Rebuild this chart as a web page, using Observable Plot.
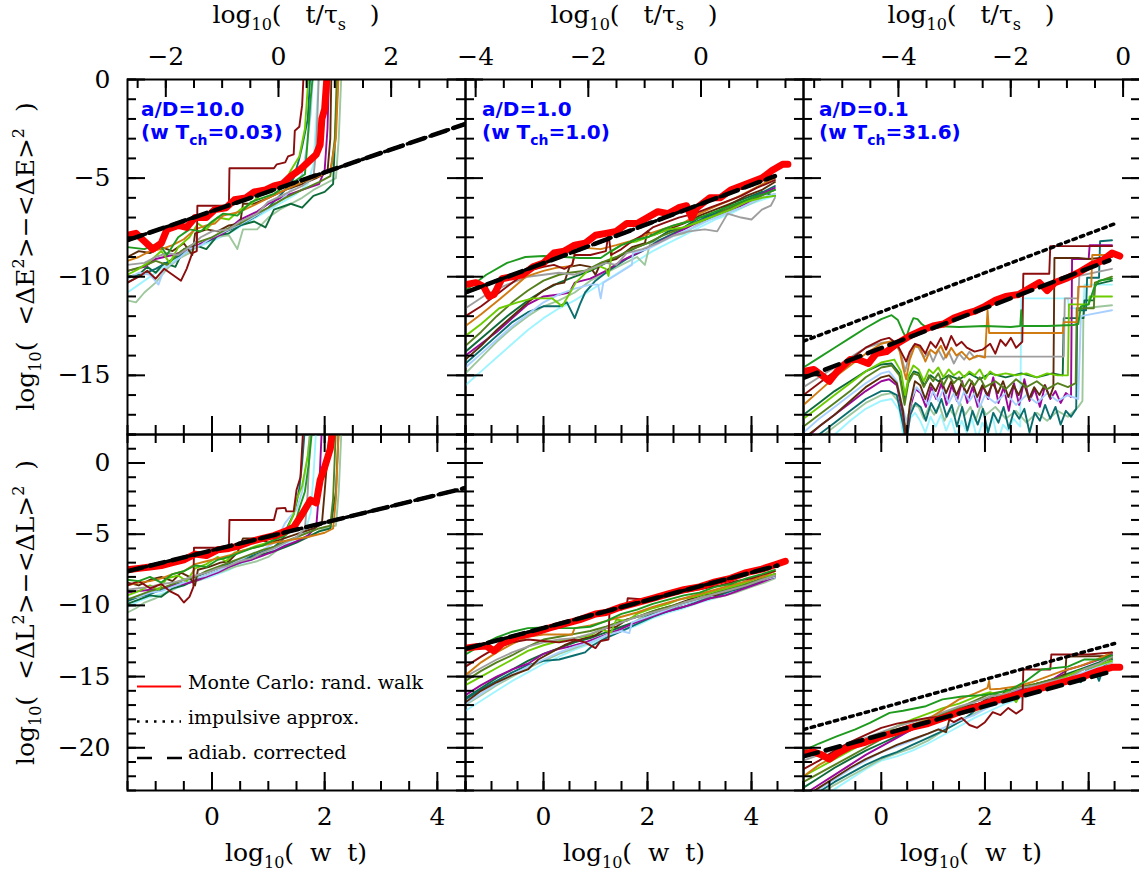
<!DOCTYPE html>
<html><head><meta charset="utf-8">
<script src="https://cdn.jsdelivr.net/npm/d3@7"></script>
<script src="https://cdn.jsdelivr.net/npm/@observablehq/plot@0.6"></script>
<style>
body{margin:0;background:#fff;}
#wrap{position:relative;width:1139px;height:875px;overflow:hidden;background:#fff;font-family:"DejaVu Serif",serif;}
.panel{position:absolute;}
.ttl{position:absolute;width:400px;text-align:center;font:25px/25px "DejaVu Serif",serif;white-space:pre;color:#000;}
.ttl sub,.ytl sub{font-size:16px;position:relative;top:7px;vertical-align:baseline;line-height:0;}
.ytl sup{font-size:16px;position:relative;top:-10px;vertical-align:baseline;line-height:0;}
.ytl{position:absolute;width:400px;height:25px;text-align:center;font:25px/25px "DejaVu Serif",serif;white-space:pre;color:#000;transform:rotate(-90deg);}
.lab{position:absolute;color:#0000ff;font:bold 20px/23px "DejaVu Sans",sans-serif;white-space:pre;}
.lab sub{font-size:14px;position:relative;top:6px;vertical-align:baseline;line-height:0;}
</style>
</head><body>
<div id="wrap"></div>
<script>
// ---------------- data ----------------
const runColors = ["#1e9a1e","#8b0d0d","#d07a12","#9e9e9e","#6ccc00","#55801c","#5c2c0a","#a8d0ff","#990899","#0b6e6e","#0d6b3a","#9dc79d","#9ff5ff"];

const ratioLabels = ["10.0","1.0","0.1"];
const omegaTLabels = ["0.03","1.0","31.6"];
const tauLabels = [[-2,0,2],[-4,-2,0],[-4,-2,0]];
const wtLabels = [0,2,4];
const tauStart = [-2.68,-4.18,-5.69];
const tauSpan = 6;
const xDomains = [[-1.5,4.5],[-1.5,5],[-1.5,5]];
const yDomains = [[-18,0],[-23,2]];

// top-left  (a/D=10, energy)
const runsTL = [
[[-1.5,-8.5],[-1.2,-8.6],[-0.95,-8.3],[-0.8,-8.9],[-0.6,-8.0],[-0.4,-7.6],[-0.2,-7.7],[0,-7.2],[0.2,-6.8],[0.45,-6.9],[0.7,-6.2],[0.9,-6.0],[1.1,-5.8],[1.3,-5.4],[1.5,-5.1],[1.65,-4.8],[1.7,-3.0],[1.75,-1.0],[1.8,0.5]],
[[-1.5,-10.3],[-1.3,-10.0],[-1.15,-9.7],[-1.0,-10.1],[-0.85,-9.6],[-0.7,-9.9],[-0.55,-10.2],[-0.45,-9.6],[-0.35,-8.8],[-0.27,-8.7],[-0.26,-6.4],[0.3,-6.4],[0.31,-4.5],[1.1,-4.5],[1.15,-4.3],[1.3,-4.2],[1.35,-3.9],[1.45,-3.8],[1.47,-2.6],[1.55,-2.4],[1.6,-1.3],[1.63,0.5]],
[[-1.5,-9.2],[-1.3,-9.0],[-1.1,-8.7],[-0.9,-8.6],[-0.7,-8.4],[-0.5,-8.1],[-0.3,-7.6],[-0.1,-7.4],[0.05,-7.3],[0.2,-6.9],[0.5,-6.7],[0.8,-6.3],[1.0,-6.0],[1.3,-5.6],[1.6,-5.2],[1.9,-4.9],[2.1,-4.6],[2.2,-3.0],[2.25,0.5]],
[[-1.5,-9.4],[-1.2,-9.3],[-1.0,-9.0],[-0.8,-8.8],[-0.6,-8.9],[-0.4,-8.5],[-0.2,-8.0],[0,-7.7],[0.3,-7.6],[0.5,-7.2],[0.8,-6.8],[1.0,-6.2],[1.3,-5.8],[1.6,-5.4],[1.8,-5.0],[1.85,-3.5],[1.9,0.5]],
[[-1.5,-9.9],[-1.3,-9.6],[-1.1,-9.2],[-0.9,-8.7],[-0.75,-9.3],[-0.6,-8.5],[-0.4,-8.0],[-0.25,-7.3],[-0.1,-7.6],[0.1,-7.0],[0.3,-7.1],[0.5,-6.6],[0.7,-6.3],[0.9,-5.7],[1.1,-5.6],[1.3,-5.2],[1.4,-4.6],[1.55,-3.9],[1.65,-2.5],[1.72,0.5]],
[[-1.5,-9.7],[-1.25,-9.5],[-1.0,-9.2],[-0.8,-9.4],[-0.55,-8.7],[-0.3,-8.3],[0,-8.0],[0.25,-7.6],[0.5,-7.3],[0.8,-6.8],[1.0,-6.5],[1.3,-6.0],[1.6,-5.6],[1.9,-5.2],[2.1,-4.9],[2.18,-3.0],[2.22,0.5]],
[[-1.5,-9.0],[-1.3,-8.7],[-1.1,-8.8],[-0.9,-8.5],[-0.7,-8.7],[-0.5,-8.3],[-0.35,-8.9],[-0.3,-7.8],[-0.1,-7.6],[0.1,-7.7],[0.3,-7.4],[0.5,-7.3],[0.55,-6.3],[0.75,-6.3],[1.0,-6.0],[1.3,-5.6],[1.6,-5.3],[1.85,-5.0],[2.05,-4.7],[2.1,-3.0],[2.12,0.5]],
[[-1.5,-10.1],[-1.3,-9.8],[-1.1,-9.9],[-0.95,-10.4],[-0.85,-9.6],[-0.6,-9.1],[-0.4,-8.6],[-0.2,-8.4],[0,-8.0],[0.3,-7.6],[0.6,-7.2],[0.9,-6.7],[1.1,-6.4],[1.3,-5.9],[1.5,-5.3],[1.6,-4.8],[1.68,-3.5],[1.75,-1.8],[1.8,0.5]],
[[-1.5,-9.7],[-1.2,-9.5],[-1.0,-9.1],[-0.7,-8.9],[-0.4,-8.6],[-0.1,-8.2],[0.2,-7.8],[0.5,-7.1],[0.8,-6.7],[1.0,-6.3],[1.3,-5.9],[1.6,-5.6],[1.9,-5.3],[2.0,-4.6],[2.05,-2.5],[2.08,0.5]],
[[-1.5,-10.3],[-1.25,-9.9],[-1.0,-9.6],[-0.75,-9.2],[-0.5,-8.8],[-0.25,-8.4],[0,-8.1],[0.25,-7.7],[0.5,-7.4],[0.8,-6.9],[1.0,-6.5],[1.3,-5.6],[1.45,-5.0],[1.55,-4.0],[1.6,-3.4],[1.7,-2.0],[1.75,0.5]],
[[-1.5,-10.0],[-1.3,-9.9],[-1.15,-9.5],[-1.0,-9.8],[-0.85,-9.3],[-0.65,-9.5],[-0.5,-8.6],[-0.3,-8.4],[-0.1,-8.6],[0.1,-7.9],[0.3,-7.8],[0.5,-7.4],[0.75,-7.2],[0.95,-7.5],[1.1,-6.6],[1.4,-6.3],[1.6,-6.5],[1.8,-5.9],[2.0,-5.7],[2.15,-5.3],[2.2,-2.0],[2.25,0.5]],
[[-1.5,-11.2],[-1.35,-11.3],[-1.2,-10.8],[-1.0,-10.3],[-0.8,-9.6],[-0.6,-9.1],[-0.4,-8.8],[-0.2,-8.3],[0,-8.0],[0.3,-7.9],[0.45,-8.6],[0.55,-7.6],[0.8,-7.6],[1.0,-7.0],[1.2,-6.6],[1.4,-6.3],[1.6,-6.0],[1.8,-5.6],[2.0,-5.3],[2.2,-5.0],[2.25,-3.0],[2.3,0.5]],
[[-1.5,-10.8],[-1.3,-10.4],[-1.1,-10.0],[-0.9,-9.6],[-0.7,-9.2],[-0.5,-8.9],[-0.25,-8.5],[0,-8.2],[0.3,-7.8],[0.6,-7.3],[0.9,-6.8],[1.2,-6.3],[1.5,-5.8],[1.7,-5.3],[1.8,-4.3],[1.85,-2.0],[1.9,0.5]]
];
const mcTL = [[-1.5,-7.9],[-1.35,-7.8],[-1.2,-8.2],[-1.05,-8.6],[-0.9,-8.3],[-0.8,-7.6],[-0.6,-7.4],[-0.45,-7.5],[-0.3,-7.0],[-0.1,-7.0],[0.05,-6.6],[0.25,-6.5],[0.4,-6.1],[0.6,-6.0],[0.75,-5.7],[0.95,-5.6],[1.1,-5.4],[1.25,-5.3],[1.4,-4.9],[1.55,-4.6],[1.7,-4.2],[1.85,-3.8],[1.92,-3.3],[1.95,-2.0],[2.0,-1.5],[2.05,0.5]];
const adiabTL = [[-1.5,-8.15],[4.5,-2.25]];
const impulsTL = [[-1.5,-8.15],[4.5,-2.25]];

// top-middle (a/D=1, energy)
const runsTM = [
[[-1.5,-10.7],[-1.1,-9.9],[-0.7,-9.3],[-0.35,-9.0],[0,-8.95],[0.4,-9.0],[0.7,-9.05],[1.1,-9.05],[1.3,-8.7],[1.5,-8.4],[1.8,-8.1],[2.0,-8.0],[2.3,-7.6],[2.5,-7.4],[2.8,-7.2],[3.0,-7.0],[3.3,-6.7],[3.5,-6.5],[3.8,-6.2],[4.0,-6.0],[4.25,-5.8],[4.45,-5.6]],
[[-1.5,-12.0],[-1.2,-11.5],[-0.9,-10.9],[-0.6,-10.3],[-0.3,-9.7],[0,-9.5],[0.2,-9.4],[0.4,-9.6],[0.55,-9.4],[0.6,-8.9],[0.9,-8.9],[1.2,-8.7],[1.25,-7.8],[1.3,-8.9],[1.5,-8.6],[1.7,-8.2],[1.9,-7.9],[2.1,-7.5],[2.3,-7.3],[2.6,-7.0],[2.9,-6.8],[3.2,-6.5],[3.5,-6.2],[3.8,-5.9],[4.1,-5.5],[4.45,-5.1]],
[[-1.5,-12.5],[-1.2,-11.9],[-0.85,-11.15],[-0.6,-10.6],[-0.34,-10.0],[0,-9.7],[0.24,-9.55],[0.55,-9.45],[0.62,-8.5],[1.1,-8.6],[1.4,-8.4],[1.67,-8.2],[2.05,-7.8],[2.4,-7.5],[2.7,-7.25],[3.0,-6.8],[3.34,-6.4],[3.7,-6.0],[4.0,-5.6],[4.36,-5.1],[4.45,-5.0]],
[[-1.5,-11.6],[-1.1,-10.9],[-0.7,-10.4],[-0.3,-10.0],[0,-9.9],[0.3,-9.8],[0.6,-9.9],[0.9,-9.6],[1.2,-9.3],[1.4,-9.4],[1.6,-8.8],[1.9,-8.6],[2.2,-8.3],[2.5,-7.9],[2.8,-7.7],[3.1,-7.6],[3.34,-7.7],[3.54,-6.8],[3.8,-7.0],[4.0,-7.1],[4.2,-6.6],[4.37,-6.4],[4.45,-6.0]],
[[-1.5,-13.0],[-1.2,-12.4],[-0.85,-11.6],[-0.5,-11.3],[-0.21,-11.1],[0.17,-11.1],[0.36,-11.5],[0.49,-10.9],[0.62,-10.3],[0.85,-9.7],[1.06,-9.45],[1.2,-9.6],[1.25,-9.96],[1.32,-8.7],[1.51,-8.35],[1.8,-8.2],[2.1,-7.9],[2.4,-7.6],[2.7,-7.5],[3.0,-7.2],[3.3,-6.9],[3.6,-6.6],[3.9,-6.2],[4.2,-6.0],[4.45,-5.9]],
[[-1.5,-13.5],[-1.2,-12.8],[-0.9,-12.0],[-0.6,-11.3],[-0.3,-10.7],[0,-10.2],[0.3,-9.9],[0.5,-9.8],[0.8,-9.7],[1.1,-9.3],[1.4,-9.0],[1.7,-8.6],[2.0,-8.3],[2.3,-7.9],[2.6,-7.6],[2.9,-7.3],[3.2,-7.0],[3.5,-6.6],[3.8,-6.3],[4.1,-6.0],[4.45,-5.6]],
[[-1.5,-14.2],[-1.2,-13.5],[-0.9,-12.7],[-0.6,-12.0],[-0.3,-11.3],[0,-10.7],[0.2,-10.4],[0.4,-10.3],[0.5,-9.5],[0.7,-9.4],[0.9,-9.5],[1.0,-9.9],[1.1,-9.3],[1.4,-9.1],[1.7,-8.5],[1.95,-8.3],[2.0,-7.7],[2.1,-7.9],[2.4,-7.6],[2.7,-7.3],[3.0,-6.9],[3.3,-6.6],[3.6,-6.3],[3.9,-5.9],[4.2,-5.6],[4.45,-5.2]],
[[-1.5,-14.6],[-1.2,-13.9],[-0.9,-13.2],[-0.6,-12.5],[-0.3,-11.9],[0,-11.3],[0.3,-10.9],[0.6,-10.6],[0.9,-10.4],[1.05,-10.4],[1.1,-11.1],[1.15,-10.3],[1.4,-9.9],[1.7,-9.4],[1.72,-8.8],[2.0,-8.6],[2.3,-8.2],[2.6,-7.8],[2.9,-7.5],[3.2,-7.1],[3.5,-6.8],[3.8,-6.5],[4.1,-6.1],[4.45,-5.8]],
[[-1.5,-14.0],[-1.2,-13.4],[-0.9,-12.8],[-0.6,-12.1],[-0.3,-11.4],[0,-11.0],[0.3,-10.9],[0.5,-10.8],[0.6,-10.3],[0.9,-10.1],[1.2,-9.7],[1.5,-9.2],[1.8,-8.8],[2.1,-8.4],[2.4,-8.0],[2.7,-7.6],[3.0,-7.2],[3.3,-6.9],[3.6,-6.6],[3.9,-6.3],[4.2,-5.8],[4.45,-5.5]],
[[-1.5,-14.4],[-1.2,-13.7],[-0.9,-13.0],[-0.6,-12.3],[-0.3,-11.8],[0,-11.5],[0.3,-11.5],[0.45,-11.3],[0.6,-12.1],[0.7,-11.4],[0.8,-10.8],[1.0,-10.2],[1.3,-9.6],[1.6,-9.1],[1.9,-8.7],[2.2,-8.2],[2.5,-7.8],[2.8,-7.4],[3.1,-7.0],[3.4,-6.7],[3.7,-6.4],[4.0,-6.0],[4.45,-5.4]],
[[-1.5,-13.8],[-1.1,-12.9],[-0.7,-12.0],[-0.3,-11.2],[0,-10.7],[0.3,-10.3],[0.6,-10.0],[0.9,-9.7],[1.2,-9.3],[1.5,-8.9],[1.8,-8.5],[2.1,-8.2],[2.4,-7.7],[2.7,-7.5],[3.0,-7.0],[3.3,-6.8],[3.6,-6.3],[3.9,-6.0],[4.2,-5.7],[4.45,-5.9]],
[[-1.5,-14.9],[-1.2,-14.1],[-0.9,-13.3],[-0.6,-12.6],[-0.3,-12.0],[0,-11.5],[0.3,-11.2],[0.6,-10.8],[0.9,-10.2],[1.2,-9.8],[1.5,-9.4],[1.8,-9.0],[1.95,-9.4],[2.05,-8.3],[2.4,-8.0],[2.7,-7.8],[3.0,-7.3],[3.3,-7.0],[3.6,-6.7],[3.9,-6.4],[4.2,-6.0],[4.45,-5.8]],
[[-1.5,-15.5],[-1.2,-14.8],[-0.9,-14.1],[-0.6,-13.4],[-0.3,-12.7],[0,-12.1],[0.3,-11.6],[0.6,-11.2],[0.9,-10.7],[1.2,-10.2],[1.5,-9.7],[1.8,-9.2],[2.1,-8.7],[2.4,-8.3],[2.7,-7.9],[3.0,-7.5],[3.3,-7.1],[3.6,-6.8],[3.9,-6.4],[4.2,-6.1],[4.45,-5.9]]
];
const mcTM = [[-1.5,-10.4],[-1.3,-10.3],[-1.15,-10.5],[-1.05,-11.0],[-0.95,-10.9],[-0.8,-10.1],[-0.6,-10.0],[-0.4,-9.9],[-0.2,-9.5],[0,-9.3],[0.2,-8.8],[0.4,-8.7],[0.6,-8.4],[0.8,-8.3],[1.0,-7.9],[1.2,-7.8],[1.4,-7.7],[1.6,-7.3],[1.8,-7.3],[2.0,-7.0],[2.2,-6.7],[2.4,-6.8],[2.6,-6.5],[2.75,-6.4],[2.85,-7.0],[2.95,-6.5],[3.2,-6.0],[3.4,-6.0],[3.6,-5.6],[3.8,-5.4],[4.0,-5.2],[4.2,-5.0],[4.4,-4.6],[4.6,-4.3],[4.7,-4.3]];
const adiabTM = [[-1.5,-10.8],[4.45,-4.9]];
const impulsTM = [[-1.5,-10.8],[4.45,-4.9]];

// top-right (a/D=0.1, energy)
const runsTR = [
[[-1.5,-14.6],[-1.2,-14.1],[-0.9,-13.6],[-0.6,-13.1],[-0.3,-12.6],[0,-12.15],[0.2,-11.95],[0.32,-12.2],[0.42,-12.8],[0.48,-13.1],[0.54,-12.6],[0.62,-12.1],[0.7,-12.15],[0.78,-12.4],[0.86,-12.55],[1.0,-12.5],[1.5,-12.55],[2.0,-12.5],[2.5,-12.55],[2.68,-12.5],[2.7,-11.7],[2.72,-12.5],[3.2,-12.5],[3.7,-12.45],[3.8,-12.4],[3.85,-11.5],[4.0,-11.4],[4.1,-10.6],[4.2,-10.2],[4.45,-10.1]],
[[-1.5,-16.0],[-1.2,-15.4],[-0.9,-14.8],[-0.6,-14.2],[-0.3,-13.6],[0,-13.2],[0.15,-13.1],[0.3,-13.4],[0.42,-14.0],[0.48,-14.3],[0.55,-13.8],[0.65,-13.4],[0.75,-13.5],[0.85,-13.9],[0.95,-13.3],[1.05,-13.6],[1.15,-13.1],[1.25,-13.7],[1.35,-13.0],[1.45,-13.5],[1.55,-13.3],[1.65,-13.6],[1.8,-13.8],[1.95,-13.7],[2.1,-13.4],[2.2,-13.9],[2.3,-13.2],[2.4,-13.5],[2.5,-13.1],[2.6,-13.6],[2.72,-13.3],[2.74,-9.85],[3.24,-9.85],[3.26,-8.45],[4.45,-8.45]],
[[-1.5,-16.5],[-1.2,-15.8],[-0.9,-15.1],[-0.6,-14.5],[-0.3,-13.9],[0,-13.4],[0.22,-13.25],[0.35,-13.7],[0.42,-14.6],[0.48,-15.2],[0.55,-14.2],[0.65,-13.5],[0.75,-13.6],[0.85,-14.3],[0.95,-13.7],[1.05,-13.9],[1.15,-13.5],[1.25,-14.1],[1.35,-13.6],[1.45,-14.0],[1.55,-13.8],[1.7,-14.2],[1.85,-14.0],[2.0,-14.1],[2.05,-11.7],[2.08,-12.85],[2.6,-12.85],[3.0,-12.85],[3.5,-12.85],[3.52,-12.3],[3.78,-12.3],[3.8,-10.5],[4.05,-10.5],[4.07,-8.9],[4.45,-8.9]],
[[-1.5,-15.6],[-1.2,-15.1],[-0.9,-14.6],[-0.6,-14.1],[-0.3,-13.6],[0,-13.35],[0.25,-13.3],[0.38,-13.9],[0.46,-14.8],[0.52,-14.2],[0.62,-13.5],[0.72,-13.6],[0.82,-14.1],[0.92,-13.8],[1.0,-14.3],[1.1,-13.7],[1.2,-14.2],[1.3,-13.8],[1.4,-14.4],[1.5,-13.9],[1.6,-14.2],[1.7,-13.8],[1.8,-14.1],[1.9,-14.0],[2.0,-14.05],[2.5,-14.05],[3.0,-14.05],[3.52,-14.05],[3.54,-11.1],[3.8,-11.1],[3.82,-9.95],[4.45,-9.6]],
[[-1.5,-17.2],[-1.2,-16.6],[-0.9,-16.0],[-0.6,-15.4],[-0.3,-14.8],[0,-14.35],[0.25,-14.2],[0.38,-14.8],[0.46,-16.0],[0.53,-15.0],[0.62,-14.5],[0.72,-14.7],[0.82,-15.3],[0.92,-14.7],[1.0,-14.9],[1.1,-14.6],[1.2,-15.1],[1.3,-14.7],[1.4,-15.0],[1.5,-14.8],[1.6,-15.1],[1.7,-14.8],[1.8,-15.0],[1.9,-14.7],[2.0,-15.2],[2.1,-14.8],[2.2,-15.0],[2.4,-14.9],[2.6,-15.0],[2.8,-14.9],[3.0,-15.1],[3.2,-14.9],[3.4,-15.0],[3.6,-15.0],[3.62,-11.4],[4.0,-11.4],[4.02,-11.0],[4.45,-11.0]],
[[-1.5,-17.6],[-1.2,-17.0],[-0.9,-16.4],[-0.6,-15.8],[-0.3,-15.1],[0,-14.6],[0.2,-14.5],[0.35,-15.0],[0.45,-16.5],[0.52,-15.4],[0.62,-14.9],[0.72,-15.0],[0.82,-15.6],[0.92,-15.0],[1.0,-15.3],[1.1,-14.9],[1.2,-15.5],[1.3,-15.0],[1.4,-15.4],[1.5,-15.1],[1.6,-15.6],[1.7,-15.2],[1.8,-15.5],[1.9,-15.1],[2.0,-15.6],[2.2,-15.3],[2.4,-15.7],[2.6,-15.2],[2.8,-15.6],[3.0,-15.3],[3.2,-15.7],[3.4,-15.4],[3.6,-15.6],[3.75,-15.4],[3.77,-11.6],[4.1,-11.6],[4.12,-10.3],[4.45,-10.0]],
[[-1.5,-18.2],[-1.2,-17.6],[-0.9,-17.0],[-0.6,-16.3],[-0.3,-15.6],[0,-15.1],[0.15,-15.0],[0.3,-15.4],[0.42,-16.8],[0.48,-18.2],[0.55,-16.5],[0.65,-15.3],[0.75,-15.5],[0.85,-16.2],[0.95,-15.4],[1.05,-15.8],[1.15,-15.2],[1.25,-15.9],[1.35,-15.3],[1.45,-16.0],[1.55,-15.4],[1.65,-15.9],[1.75,-15.3],[1.85,-16.1],[1.95,-15.5],[2.05,-16.0],[2.15,-15.4],[2.25,-15.9],[2.35,-15.3],[2.45,-16.1],[2.55,-15.5],[2.65,-16.0],[2.75,-15.4],[2.85,-16.2],[2.95,-15.6],[3.05,-16.0],[3.15,-15.5],[3.25,-16.1],[3.32,-15.6],[3.34,-9.05],[3.8,-9.05],[4.0,-9.1],[4.45,-9.0]],
[[-1.5,-17.9],[-1.2,-17.2],[-0.9,-16.6],[-0.6,-16.0],[-0.3,-15.4],[0,-14.9],[0.15,-14.8],[0.3,-15.3],[0.42,-16.7],[0.5,-17.5],[0.58,-16.2],[0.68,-15.6],[0.78,-15.9],[0.9,-16.5],[1.0,-15.8],[1.1,-16.3],[1.2,-15.7],[1.3,-16.4],[1.4,-15.9],[1.5,-16.5],[1.6,-15.8],[1.7,-16.3],[1.8,-15.9],[1.9,-16.6],[2.0,-16.0],[2.2,-16.4],[2.4,-15.9],[2.6,-16.5],[2.8,-16.0],[3.0,-16.4],[3.2,-15.9],[3.4,-16.3],[3.6,-16.0],[3.8,-16.2],[3.85,-12.0],[4.45,-11.7]],
[[-1.5,-18.3],[-1.2,-17.6],[-0.9,-17.0],[-0.6,-16.4],[-0.3,-15.8],[0,-15.3],[0.15,-15.2],[0.3,-15.5],[0.42,-17.0],[0.48,-18.2],[0.56,-16.6],[0.66,-15.7],[0.76,-15.9],[0.86,-16.6],[0.96,-15.6],[1.06,-16.2],[1.16,-15.4],[1.26,-16.5],[1.36,-15.5],[1.46,-16.3],[1.56,-15.3],[1.66,-16.4],[1.76,-15.6],[1.86,-16.6],[1.96,-15.5],[2.06,-16.2],[2.16,-15.1],[2.26,-16.4],[2.36,-15.6],[2.46,-16.8],[2.56,-15.4],[2.66,-16.5],[2.76,-15.2],[2.86,-16.3],[2.96,-15.7],[3.06,-16.6],[3.16,-15.5],[3.26,-16.2],[3.36,-15.8],[3.46,-16.4],[3.56,-15.9],[3.66,-16.1],[3.68,-9.1],[4.0,-9.1],[4.02,-8.4],[4.45,-8.4]],
[[-1.5,-18.6],[-1.2,-18.0],[-0.9,-17.4],[-0.6,-16.8],[-0.3,-16.2],[0,-15.8],[0.15,-15.8],[0.3,-16.0],[0.42,-17.5],[0.48,-18.5],[0.56,-17.0],[0.66,-16.4],[0.76,-16.6],[0.86,-17.3],[0.96,-16.4],[1.06,-16.9],[1.16,-16.2],[1.26,-17.1],[1.36,-16.5],[1.46,-17.6],[1.56,-16.6],[1.66,-17.8],[1.76,-16.8],[1.86,-17.5],[1.96,-16.7],[2.06,-17.9],[2.16,-16.9],[2.26,-17.4],[2.36,-16.6],[2.46,-17.7],[2.56,-16.8],[2.66,-17.2],[2.76,-16.7],[2.86,-17.9],[2.96,-16.9],[3.06,-17.3],[3.16,-16.5],[3.26,-17.2],[3.36,-16.6],[3.46,-17.5],[3.56,-16.8],[3.66,-17.1],[3.76,-16.7],[3.78,-11.7],[3.95,-11.7],[3.97,-10.05],[4.2,-10.05],[4.22,-8.2],[4.45,-8.15]],
[[-1.5,-17.0],[-1.2,-16.4],[-0.9,-15.8],[-0.6,-15.3],[-0.3,-14.8],[0,-14.45],[0.2,-14.4],[0.35,-14.9],[0.45,-16.2],[0.53,-15.2],[0.63,-14.8],[0.73,-14.9],[0.83,-15.5],[0.95,-15.0],[1.1,-15.3],[1.3,-15.0],[1.5,-15.2],[1.7,-14.9],[1.9,-15.2],[2.1,-14.9],[2.4,-15.1],[2.7,-14.9],[3.0,-15.1],[3.3,-14.9],[3.5,-15.0],[3.52,-12.1],[3.9,-12.1],[3.92,-11.2],[4.1,-11.2],[4.12,-10.4],[4.45,-10.2]],
[[-1.5,-18.9],[-1.2,-18.2],[-0.9,-17.6],[-0.6,-17.0],[-0.3,-16.4],[0,-16.0],[0.2,-15.9],[0.35,-16.4],[0.45,-17.8],[0.52,-17.0],[0.62,-16.5],[0.72,-16.6],[0.82,-17.2],[0.92,-16.6],[1.02,-17.0],[1.12,-16.5],[1.22,-17.3],[1.32,-16.7],[1.42,-17.1],[1.52,-16.4],[1.62,-17.0],[1.72,-16.6],[1.82,-17.3],[1.92,-16.5],[2.02,-17.0],[2.2,-16.6],[2.4,-17.2],[2.6,-16.8],[2.8,-17.4],[3.0,-16.9],[3.2,-17.3],[3.4,-16.8],[3.6,-17.1],[3.8,-16.6],[3.88,-16.3],[3.9,-11.6],[4.45,-11.45]],
[[-1.5,-19.3],[-1.2,-18.7],[-0.9,-18.0],[-0.6,-17.3],[-0.3,-16.7],[0,-16.3],[0.2,-16.2],[0.35,-16.8],[0.45,-18.5],[0.55,-17.2],[0.65,-16.9],[0.75,-17.3],[0.85,-17.9],[0.95,-17.1],[1.05,-17.6],[1.15,-17.0],[1.25,-17.8],[1.35,-17.2],[1.45,-18.1],[1.55,-17.3],[1.65,-17.9],[1.75,-17.2],[1.85,-18.2],[1.95,-17.4],[2.05,-17.9],[2.15,-17.1],[2.25,-18.3],[2.35,-17.5],[2.45,-17.8],[2.55,-17.2],[2.68,-17.6],[2.7,-11.1],[3.6,-11.1],[3.62,-11.6],[3.9,-11.6],[3.92,-10.4],[4.45,-10.4]]
];
const mcTR = [[-1.5,-14.8],[-1.3,-14.7],[-1.15,-15.0],[-1.0,-15.3],[-0.85,-14.8],[-0.6,-14.2],[-0.45,-14.2],[-0.25,-14.4],[-0.1,-13.9],[0.1,-13.8],[0.3,-13.4],[0.55,-13.0],[0.8,-12.7],[1.0,-12.5],[1.2,-12.4],[1.4,-12.1],[1.6,-11.9],[1.8,-11.75],[2.0,-11.5],[2.2,-11.2],[2.4,-11.0],[2.65,-10.9],[2.85,-10.6],[3.05,-10.3],[3.2,-10.7],[3.35,-10.3],[3.6,-10.05],[3.8,-9.8],[4.05,-9.4],[4.25,-9.2],[4.45,-8.8],[4.6,-8.95]];
const adiabTR = [[-1.5,-15.13],[4.4,-9.17]];
const impulsTR = [[-1.5,-13.27],[4.52,-7.3]];

// bottom-left (a/D=10, angular momentum)
const runsBL = [
[[-1.5,-8.2],[-1.3,-8.3],[-1.1,-8.0],[-0.9,-8.4],[-0.7,-7.8],[-0.5,-7.6],[-0.3,-7.2],[-0.1,-7.3],[0.1,-6.8],[0.3,-6.6],[0.5,-6.3],[0.7,-6.0],[0.9,-5.8],[1.1,-5.4],[1.3,-5.1],[1.45,-4.6],[1.55,-3.2],[1.65,-2.0],[1.72,0.0],[1.78,2.5]],
[[-1.5,-8.6],[-1.3,-8.3],[-1.1,-8.8],[-0.9,-8.5],[-0.75,-9.0],[-0.6,-9.3],[-0.5,-9.8],[-0.4,-9.4],[-0.33,-8.7],[-0.32,-5.95],[0.3,-5.95],[0.31,-4.0],[1.1,-4.0],[1.15,-3.2],[1.3,-3.15],[1.32,-3.4],[1.45,-3.4],[1.5,-1.9],[1.57,-1.0],[1.62,2.5]],
[[-1.5,-8.6],[-1.3,-8.4],[-1.1,-8.3],[-0.9,-8.1],[-0.7,-7.8],[-0.5,-7.6],[-0.3,-7.1],[-0.1,-6.9],[0.1,-6.7],[0.3,-6.5],[0.5,-6.2],[0.7,-6.0],[0.9,-5.8],[1.1,-5.6],[1.4,-5.4],[1.7,-5.2],[2.0,-4.9],[2.15,-4.6],[2.2,-2.5],[2.25,2.5]],
[[-1.5,-8.9],[-1.3,-8.8],[-1.1,-8.7],[-0.9,-8.5],[-0.7,-8.4],[-0.5,-8.2],[-0.3,-7.9],[-0.1,-7.7],[0.1,-7.4],[0.3,-7.2],[0.5,-6.9],[0.7,-6.7],[0.9,-6.3],[1.1,-6.0],[1.3,-5.6],[1.5,-5.2],[1.65,-4.6],[1.7,-2.0],[1.75,2.5]],
[[-1.5,-9.3],[-1.3,-9.0],[-1.1,-8.6],[-0.95,-8.9],[-0.8,-8.1],[-0.6,-7.9],[-0.45,-8.3],[-0.3,-7.4],[-0.1,-7.1],[0.1,-6.6],[0.25,-6.9],[0.4,-6.3],[0.6,-6.1],[0.8,-5.8],[1.0,-5.6],[1.2,-5.2],[1.35,-4.5],[1.45,-3.6],[1.5,-2.6],[1.6,-1.6],[1.7,0.5],[1.75,2.5]],
[[-1.5,-9.6],[-1.3,-9.3],[-1.1,-9.0],[-0.9,-8.8],[-0.7,-8.5],[-0.5,-8.2],[-0.3,-8.0],[-0.1,-7.6],[0.1,-7.3],[0.3,-7.0],[0.5,-6.7],[0.7,-6.4],[0.9,-6.1],[1.1,-5.9],[1.3,-5.5],[1.5,-5.2],[1.7,-4.9],[1.9,-4.6],[2.1,-4.4],[2.15,-2.5],[2.2,2.5]],
[[-1.5,-8.4],[-1.3,-8.6],[-1.1,-8.2],[-0.9,-8.0],[-0.7,-8.3],[-0.55,-7.7],[-0.4,-8.0],[-0.3,-8.6],[-0.25,-7.5],[-0.05,-7.3],[0.15,-7.0],[0.3,-6.9],[0.45,-6.3],[0.55,-5.3],[0.8,-5.3],[1.0,-5.6],[1.2,-5.4],[1.5,-5.0],[1.8,-4.6],[1.95,-4.3],[2.0,-2.0],[2.05,0.5],[2.1,2.5]],
[[-1.5,-9.5],[-1.3,-9.4],[-1.1,-9.1],[-0.9,-9.0],[-0.7,-8.7],[-0.5,-8.4],[-0.3,-8.1],[-0.1,-7.9],[0.1,-7.6],[0.3,-7.2],[0.5,-6.8],[0.7,-6.4],[0.9,-6.1],[1.1,-5.6],[1.2,-5.0],[1.3,-4.2],[1.4,-3.7],[1.5,-3.3],[1.6,-2.0],[1.7,0.5],[1.75,2.5]],
[[-1.5,-9.1],[-1.3,-9.0],[-1.1,-8.9],[-0.9,-8.8],[-0.7,-8.6],[-0.5,-8.5],[-0.3,-8.3],[-0.1,-8.0],[0.1,-7.7],[0.3,-7.3],[0.5,-7.0],[0.7,-6.8],[0.9,-6.5],[1.1,-6.2],[1.3,-5.8],[1.5,-5.5],[1.7,-5.1],[1.85,-4.5],[1.9,-2.0],[1.95,2.5]],
[[-1.5,-9.7],[-1.3,-9.4],[-1.1,-9.2],[-0.9,-8.9],[-0.7,-8.6],[-0.5,-8.4],[-0.3,-8.0],[-0.1,-7.7],[0.1,-7.4],[0.3,-7.1],[0.5,-6.8],[0.7,-6.5],[0.9,-6.2],[1.1,-5.9],[1.25,-5.4],[1.35,-4.4],[1.45,-3.6],[1.5,-2.8],[1.55,-1.8],[1.6,0.0],[1.65,2.5]],
[[-1.5,-9.9],[-1.3,-9.6],[-1.1,-9.3],[-0.9,-9.4],[-0.7,-8.8],[-0.5,-8.6],[-0.3,-8.2],[-0.1,-7.9],[0.1,-7.6],[0.3,-7.3],[0.5,-7.0],[0.7,-6.6],[0.9,-6.4],[1.1,-6.2],[1.3,-5.9],[1.5,-5.6],[1.7,-5.2],[1.9,-4.8],[2.1,-4.6],[2.2,-2.0],[2.25,2.5]],
[[-1.5,-10.5],[-1.35,-10.2],[-1.2,-9.8],[-1.0,-9.5],[-0.8,-9.1],[-0.6,-8.7],[-0.4,-8.4],[-0.2,-8.2],[0,-7.8],[0.2,-7.6],[0.4,-7.3],[0.6,-7.1],[0.8,-6.9],[1.0,-6.6],[1.2,-6.0],[1.4,-5.7],[1.6,-5.3],[1.8,-5.0],[2.0,-4.6],[2.2,-4.4],[2.25,-2.0],[2.3,2.5]],
[[-1.5,-10.1],[-1.3,-9.7],[-1.1,-9.4],[-0.9,-9.2],[-0.7,-8.9],[-0.5,-8.6],[-0.3,-8.3],[-0.1,-8.1],[0.1,-7.8],[0.3,-7.5],[0.5,-7.1],[0.7,-6.8],[0.9,-6.5],[1.1,-6.1],[1.3,-5.7],[1.5,-5.3],[1.65,-4.9],[1.75,-3.5],[1.8,-1.0],[1.85,2.5]]
];
const mcBL = [[-1.5,-7.5],[-1.3,-7.4],[-1.1,-7.3],[-0.9,-7.2],[-0.7,-7.0],[-0.5,-6.8],[-0.3,-6.4],[-0.1,-6.5],[0.1,-6.1],[0.3,-6.0],[0.5,-5.8],[0.7,-5.5],[0.9,-5.3],[1.1,-5.1],[1.3,-4.8],[1.45,-4.5],[1.6,-3.6],[1.75,-2.6],[1.85,-2.8],[1.92,-1.2],[2.0,-0.3],[2.1,1.0],[2.15,2.5]];
const adiabBL = [[-1.5,-7.6],[4.5,-1.75]];
const impulsBL = [[-1.5,-7.6],[4.5,-1.75]];

// bottom-middle (a/D=1, angular momentum)
const runsBM = [
[[-1.5,-13.45],[-1.2,-12.8],[-0.9,-12.25],[-0.6,-11.85],[-0.3,-11.6],[0,-11.55],[0.3,-11.6],[0.6,-11.6],[0.9,-11.5],[1.2,-11.1],[1.5,-10.6],[1.8,-10.3],[2.1,-9.9],[2.4,-9.6],[2.7,-9.3],[3.0,-9.1],[3.3,-8.7],[3.6,-8.5],[3.9,-8.1],[4.2,-7.8],[4.45,-7.5]],
[[-1.5,-14.3],[-1.2,-13.6],[-0.9,-12.95],[-0.6,-12.6],[-0.3,-12.4],[0,-12.5],[0.3,-12.6],[0.6,-12.4],[0.8,-12.6],[1.0,-13.0],[1.1,-12.5],[1.25,-12.4],[1.27,-10.3],[1.5,-10.3],[1.6,-10.0],[1.62,-9.5],[2.0,-9.6],[2.4,-9.3],[2.8,-9.0],[3.1,-8.8],[3.4,-8.6],[3.7,-8.3],[4.0,-8.1],[4.25,-7.8],[4.45,-7.6]],
[[-1.5,-14.9],[-1.2,-14.0],[-0.9,-13.3],[-0.6,-12.7],[-0.3,-12.2],[0,-12.05],[0.3,-12.05],[0.55,-12.05],[0.6,-11.6],[0.9,-11.4],[1.2,-11.1],[1.5,-10.8],[1.8,-10.5],[2.1,-10.1],[2.4,-9.8],[2.7,-9.5],[3.0,-9.2],[3.3,-8.9],[3.6,-8.6],[3.9,-8.3],[4.2,-8.0],[4.45,-7.6]],
[[-1.5,-15.0],[-1.2,-14.4],[-0.9,-13.8],[-0.6,-13.3],[-0.3,-12.9],[0,-12.6],[0.3,-12.4],[0.6,-12.3],[0.9,-12.0],[1.2,-11.6],[1.5,-11.2],[1.8,-10.8],[2.1,-10.5],[2.4,-10.2],[2.7,-9.8],[3.0,-9.5],[3.3,-9.2],[3.6,-8.9],[3.9,-8.6],[4.2,-8.2],[4.45,-7.9]],
[[-1.5,-15.6],[-1.2,-15.0],[-0.9,-14.4],[-0.6,-13.8],[-0.3,-13.2],[0,-12.8],[0.3,-12.5],[0.6,-12.3],[0.9,-12.1],[1.1,-11.7],[1.3,-11.9],[1.4,-11.0],[1.6,-11.1],[1.8,-10.6],[2.1,-10.2],[2.4,-9.9],[2.6,-9.6],[2.9,-9.4],[3.2,-9.1],[3.5,-8.8],[3.8,-8.5],[4.1,-8.1],[4.45,-7.8]],
[[-1.5,-15.3],[-1.2,-14.6],[-0.9,-14.0],[-0.6,-13.5],[-0.3,-12.9],[0,-12.4],[0.3,-12.2],[0.6,-12.0],[0.9,-11.8],[1.2,-11.5],[1.5,-11.1],[1.8,-10.8],[2.1,-10.4],[2.4,-10.1],[2.7,-9.8],[3.0,-9.5],[3.3,-9.1],[3.6,-8.8],[3.9,-8.5],[4.2,-8.1],[4.45,-7.8]],
[[-1.5,-16.8],[-1.2,-16.0],[-0.9,-15.4],[-0.6,-14.9],[-0.3,-14.5],[-0.1,-13.8],[0.2,-13.2],[0.4,-12.8],[0.6,-12.5],[0.8,-12.3],[1.0,-12.1],[1.2,-11.6],[1.4,-11.5],[1.6,-11.0],[1.9,-10.7],[2.2,-10.3],[2.5,-10.0],[2.8,-9.6],[3.1,-9.2],[3.3,-9.3],[3.6,-8.9],[3.9,-8.6],[4.2,-8.2],[4.45,-7.9]],
[[-1.5,-16.9],[-1.2,-16.2],[-0.9,-15.5],[-0.6,-14.9],[-0.3,-14.3],[0,-13.8],[0.3,-13.3],[0.6,-12.9],[0.9,-12.6],[1.2,-12.1],[1.5,-11.8],[1.65,-11.95],[1.7,-11.2],[2.0,-10.8],[2.3,-10.4],[2.6,-10.0],[2.9,-9.7],[3.2,-9.3],[3.5,-9.0],[3.8,-8.7],[4.1,-8.3],[4.45,-8.0]],
[[-1.5,-16.3],[-1.2,-15.6],[-0.9,-15.0],[-0.6,-14.5],[-0.3,-14.1],[0,-13.4],[0.25,-13.1],[0.5,-12.9],[0.8,-12.6],[1.1,-12.2],[1.4,-11.8],[1.7,-11.3],[2.0,-10.9],[2.3,-10.5],[2.6,-10.2],[2.9,-9.9],[3.2,-9.5],[3.5,-9.3],[3.8,-8.9],[4.1,-8.5],[4.45,-8.0]],
[[-1.5,-16.6],[-1.2,-15.9],[-0.9,-15.3],[-0.6,-14.7],[-0.3,-14.2],[0,-13.9],[0.3,-13.8],[0.6,-13.5],[0.8,-13.3],[0.95,-12.8],[1.2,-12.3],[1.5,-11.8],[1.8,-11.3],[2.1,-10.8],[2.4,-10.4],[2.7,-10.1],[3.0,-9.7],[3.3,-9.4],[3.6,-9.0],[3.9,-8.7],[4.2,-8.3],[4.45,-8.0]],
[[-1.5,-16.5],[-1.2,-15.8],[-0.9,-15.1],[-0.6,-14.5],[-0.3,-13.9],[0,-13.4],[0.3,-13.0],[0.6,-12.6],[0.9,-12.3],[1.2,-11.9],[1.5,-11.5],[1.8,-11.1],[2.1,-10.6],[2.4,-10.3],[2.7,-9.9],[3.0,-9.6],[3.3,-9.2],[3.6,-8.9],[3.9,-8.5],[4.2,-8.2],[4.45,-7.8]],
[[-1.5,-17.0],[-1.2,-16.3],[-0.9,-15.6],[-0.6,-15.0],[-0.3,-14.4],[0,-13.9],[0.3,-13.4],[0.6,-13.0],[0.9,-12.6],[1.2,-12.1],[1.5,-11.6],[1.7,-11.3],[1.9,-10.8],[2.2,-10.6],[2.5,-10.3],[2.8,-10.0],[3.1,-9.6],[3.4,-9.4],[3.7,-9.1],[4.0,-8.7],[4.25,-8.4],[4.45,-8.1]],
[[-1.5,-17.4],[-1.2,-16.7],[-0.9,-16.0],[-0.6,-15.3],[-0.3,-14.7],[0,-14.1],[0.3,-13.6],[0.6,-13.1],[0.9,-12.7],[1.2,-12.2],[1.5,-11.8],[1.8,-11.4],[2.1,-10.9],[2.4,-10.5],[2.7,-10.2],[3.0,-9.8],[3.3,-9.5],[3.6,-9.1],[3.9,-8.8],[4.2,-8.4],[4.45,-8.1]]
];
const mcBM = [[-1.5,-13.0],[-1.3,-12.9],[-1.1,-12.85],[-0.95,-13.2],[-0.8,-12.7],[-0.5,-12.2],[-0.2,-11.95],[0.1,-11.6],[0.4,-11.3],[0.7,-11.0],[1.0,-10.6],[1.2,-10.5],[1.5,-10.1],[1.8,-9.8],[2.1,-9.5],[2.4,-9.2],[2.7,-8.9],[3.0,-8.7],[3.3,-8.35],[3.6,-8.1],[3.9,-7.7],[4.2,-7.45],[4.45,-7.15],[4.65,-6.9]];
const adiabBM = [[-1.5,-13.05],[4.5,-7.2]];
const impulsBM = [[-1.5,-13.05],[4.5,-7.2]];

// bottom-right (a/D=0.1, angular momentum)
const runsBR = [
[[-1.5,-20.2],[-1.2,-19.7],[-0.86,-19.2],[-0.5,-18.7],[-0.22,-18.25],[0.16,-17.55],[0.42,-17.4],[0.86,-17.08],[1.18,-16.6],[1.56,-16.4],[1.94,-16.3],[2.2,-16.2],[2.5,-15.9],[2.8,-15.3],[3.09,-14.5],[3.6,-14.3],[3.92,-13.8],[4.24,-13.8],[4.45,-13.5]],
[[-1.5,-21.5],[-1.2,-20.9],[-0.9,-20.2],[-0.6,-19.6],[-0.3,-19.1],[0,-18.6],[0.3,-18.3],[0.6,-18.1],[0.9,-17.9],[1.2,-17.8],[1.4,-18.2],[1.55,-17.9],[1.7,-18.4],[1.85,-18.6],[2.0,-18.2],[2.15,-17.5],[2.3,-17.7],[2.45,-17.2],[2.6,-17.6],[2.72,-17.3],[2.74,-14.5],[3.26,-14.5],[3.28,-13.45],[4.0,-13.45],[4.45,-13.3]],
[[-1.5,-22.0],[-1.2,-21.2],[-0.9,-20.6],[-0.6,-20.1],[-0.3,-19.7],[0,-19.3],[0.3,-18.8],[0.6,-18.4],[0.9,-18.0],[1.2,-17.3],[1.5,-16.6],[1.8,-16.2],[2.05,-15.8],[2.08,-15.3],[2.1,-15.9],[2.3,-15.85],[2.6,-15.7],[2.9,-15.4],[3.2,-15.0],[3.5,-14.6],[3.8,-14.3],[4.1,-13.9],[4.45,-13.3]],
[[-1.5,-20.9],[-1.2,-20.5],[-0.9,-20.1],[-0.6,-19.7],[-0.3,-19.3],[0,-18.9],[0.3,-18.5],[0.6,-18.2],[0.9,-17.9],[1.2,-17.5],[1.5,-17.1],[1.8,-16.8],[2.1,-16.4],[2.4,-16.2],[2.7,-15.8],[3.0,-15.6],[3.3,-15.3],[3.6,-15.1],[3.9,-14.5],[4.2,-14.1],[4.45,-13.6]],
[[-1.5,-22.0],[-1.2,-21.4],[-0.9,-20.8],[-0.6,-20.2],[-0.3,-19.6],[0,-19.0],[0.3,-18.5],[0.6,-18.0],[0.9,-17.6],[1.2,-17.2],[1.5,-16.9],[1.7,-16.6],[1.9,-16.3],[2.1,-16.1],[2.3,-16.4],[2.45,-16.0],[2.6,-16.8],[2.7,-16.1],[2.9,-15.8],[3.2,-15.5],[3.5,-15.1],[3.8,-14.6],[4.1,-14.3],[4.45,-13.9]],
[[-1.5,-22.4],[-1.2,-21.8],[-0.9,-21.2],[-0.6,-20.6],[-0.3,-20.0],[0,-19.4],[0.3,-18.9],[0.6,-18.4],[0.9,-18.0],[1.2,-17.6],[1.5,-17.2],[1.8,-16.7],[2.1,-16.2],[2.4,-16.0],[2.7,-15.7],[3.0,-15.5],[3.3,-15.2],[3.6,-14.9],[3.9,-14.5],[4.2,-14.1],[4.45,-13.7]],
[[-1.5,-23.5],[-1.2,-22.8],[-0.9,-22.1],[-0.6,-21.4],[-0.3,-20.8],[0,-20.3],[0.3,-19.8],[0.6,-19.4],[0.9,-19.0],[1.1,-18.7],[1.25,-18.9],[1.35,-17.5],[1.5,-17.3],[1.7,-17.0],[1.9,-16.9],[2.1,-16.4],[2.3,-16.6],[2.4,-15.9],[2.6,-16.2],[2.8,-15.8],[3.0,-15.5],[3.3,-15.3],[3.55,-14.8],[3.57,-13.6],[4.45,-13.55]],
[[-1.5,-23.6],[-1.2,-22.9],[-0.9,-22.2],[-0.6,-21.5],[-0.3,-20.9],[0,-20.3],[0.3,-19.9],[0.6,-19.5],[0.9,-19.0],[1.2,-18.6],[1.5,-18.1],[1.8,-17.7],[2.1,-17.1],[2.4,-16.7],[2.7,-16.3],[3.0,-15.9],[3.3,-15.5],[3.6,-15.1],[3.9,-14.7],[4.2,-14.3],[4.45,-13.9]],
[[-1.5,-23.3],[-1.2,-22.6],[-0.9,-21.9],[-0.6,-21.2],[-0.3,-20.5],[0,-19.9],[0.3,-19.3],[0.6,-18.7],[0.9,-18.1],[1.2,-17.6],[1.5,-17.3],[1.8,-17.0],[2.1,-16.6],[2.4,-16.3],[2.7,-15.9],[3.0,-15.6],[3.3,-15.2],[3.6,-14.5],[3.9,-14.2],[4.2,-13.8],[4.45,-13.4]],
[[-1.5,-23.8],[-1.2,-23.1],[-0.9,-22.4],[-0.6,-21.8],[-0.3,-21.2],[0,-20.7],[0.3,-20.3],[0.6,-19.8],[0.9,-19.3],[1.2,-18.8],[1.4,-18.4],[1.6,-18.0],[1.8,-17.4],[2.0,-17.0],[2.2,-16.9],[2.5,-16.5],[2.8,-16.2],[3.1,-15.8],[3.4,-15.4],[3.7,-15.0],[3.85,-15.4],[3.95,-14.6],[4.1,-14.4],[4.2,-15.3],[4.3,-14.2],[4.45,-13.8]],
[[-1.5,-22.8],[-1.2,-22.1],[-0.9,-21.4],[-0.6,-20.8],[-0.3,-20.2],[0,-19.7],[0.3,-19.2],[0.6,-18.7],[0.9,-18.3],[1.2,-17.9],[1.5,-17.4],[1.8,-17.0],[2.1,-16.6],[2.4,-16.2],[2.7,-15.9],[3.0,-15.5],[3.3,-15.2],[3.6,-14.8],[3.9,-14.4],[4.2,-14.0],[4.45,-13.6]],
[[-1.5,-24.0],[-1.2,-23.3],[-0.9,-22.6],[-0.6,-22.0],[-0.3,-21.4],[0,-20.8],[0.3,-20.4],[0.6,-20.0],[0.9,-19.5],[1.2,-18.8],[1.4,-18.4],[1.6,-17.9],[1.8,-17.6],[2.0,-17.2],[2.3,-16.8],[2.6,-16.4],[2.9,-16.0],[3.2,-15.6],[3.5,-15.3],[3.8,-14.9],[4.1,-14.5],[4.45,-14.0]],
[[-1.5,-24.4],[-1.2,-23.6],[-0.9,-22.9],[-0.6,-22.2],[-0.3,-21.5],[0,-20.9],[0.3,-20.6],[0.6,-20.2],[0.9,-19.7],[1.2,-19.1],[1.5,-18.5],[1.8,-17.9],[2.1,-17.4],[2.4,-16.9],[2.7,-16.5],[3.0,-16.0],[3.3,-15.6],[3.6,-15.2],[3.9,-14.8],[4.2,-14.4],[4.45,-14.0]]
];
const mcBR = [[-1.5,-20.4],[-1.3,-20.3],[-1.15,-20.5],[-1.0,-20.8],[-0.85,-20.4],[-0.6,-19.9],[-0.3,-19.6],[0,-19.2],[0.3,-18.9],[0.6,-18.55],[0.9,-18.3],[1.2,-17.9],[1.5,-17.5],[1.8,-17.2],[2.1,-16.8],[2.4,-16.5],[2.7,-16.2],[3.0,-15.9],[3.3,-15.6],[3.6,-15.3],[3.9,-15.0],[4.2,-14.6],[4.45,-14.35],[4.6,-14.35]];
const adiabBR = [[-1.5,-20.6],[4.48,-14.6]];
const impulsBR = [[-1.5,-18.72],[4.5,-12.68]];

// ---------------- layout ----------------
const colLeft = [127, 465, 803], colWidth = [338, 338, 337];
const rowTop = [79, 434], rowHeight = [355, 356];
const serif = "DejaVu Serif";
const fmt = d => (d < 0 ? "\u2212" + Math.abs(d) : String(d));

const panels = [
  {row:0,col:0,runs:runsTL,mc:mcTL,adiab:adiabTL,impuls:impulsTL},
  {row:0,col:1,runs:runsTM,mc:mcTM,adiab:adiabTM,impuls:impulsTM},
  {row:0,col:2,runs:runsTR,mc:mcTR,adiab:adiabTR,impuls:impulsTR},
  {row:1,col:0,runs:runsBL,mc:mcBL,adiab:adiabBL,impuls:impulsBL},
  {row:1,col:1,runs:runsBM,mc:mcBM,adiab:adiabBM,impuls:impulsBM},
  {row:1,col:2,runs:runsBR,mc:mcBR,adiab:adiabBR,impuls:impulsBR}
];

const wrap = document.getElementById("wrap");
const X = d => d[0], Y = d => d[1];

function makePanel(p) {
  const c = p.col, r = p.row;
  const W = colWidth[c], H = rowHeight[r];
  const xd = xDomains[c], yd = yDomains[r];
  const eps = 1e-9;
  const xMinor = d3.range(Math.ceil(xd[0]*2)/2, xd[1]+eps, 0.5);
  const xMajor = xMinor.filter(v => Math.abs(v % 2) < eps);
  const yMinor = d3.range(Math.ceil(yd[0]), yd[1]+eps, 1);
  const yMajor = yMinor.filter(v => Math.abs(v % 5) < eps);
  const t0 = tauStart[c];
  const tauToX = t => xd[0] + (t - t0) * (xd[1] - xd[0]) / tauSpan;
  const tMinor = d3.range(Math.ceil(t0*2)/2, t0 + tauSpan + eps, 0.5);
  const tMajor = tMinor.filter(v => Math.abs(v % 2) < eps);
  const tk = {stroke: "black", strokeWidth: 2};
  const lab = {fontSize: 25, fontFamily: serif, fill: "black"};
  const marks = [];
  for (let i = p.runs.length - 1; i >= 0; i--) {
    marks.push(Plot.line(p.runs[i], {x: X, y: Y, stroke: runColors[i], strokeWidth: 1.9, clip: true}));
  }
  marks.push(Plot.line(p.mc, {x: X, y: Y, stroke: "#ff0000", strokeWidth: 7, strokeLinejoin: "round", strokeLinecap: "round", clip: true}));
  marks.push(Plot.line(p.impuls, {x: X, y: Y, stroke: "black", strokeWidth: 3.5, strokeDasharray: "3.5,4.5", clip: true}));
  marks.push(Plot.line(p.adiab, {x: X, y: Y, stroke: "black", strokeWidth: 4.5, strokeDasharray: "15,8", clip: true}));
  marks.push(Plot.frame({stroke: "black", strokeWidth: 2}));
  marks.push(Plot.tickX(xMajor, {x: d => d, insetTop: H - 18, ...tk}));
  marks.push(Plot.tickX(xMinor, {x: d => d, insetTop: H - 9, ...tk}));
  if (r === 0) {
    marks.push(Plot.tickX(tMajor, {x: tauToX, insetBottom: H - 18, ...tk}));
    marks.push(Plot.tickX(tMinor, {x: tauToX, insetBottom: H - 9, ...tk}));
    marks.push(Plot.text(tauLabels[c], {x: tauToX, text: fmt, frameAnchor: "top", lineAnchor: "bottom", dy: -15, ...lab}));
  } else {
    marks.push(Plot.tickX(xMajor, {x: d => d, insetBottom: H - 18, ...tk}));
    marks.push(Plot.tickX(xMinor, {x: d => d, insetBottom: H - 9, ...tk}));
    marks.push(Plot.text(wtLabels, {x: d => d, text: fmt, frameAnchor: "bottom", lineAnchor: "top", dy: 16.5, ...lab}));
  }
  marks.push(Plot.tickY(yMajor, {y: d => d, insetRight: W - 18, ...tk}));
  marks.push(Plot.tickY(yMinor, {y: d => d, insetRight: W - 9, ...tk}));
  marks.push(Plot.tickY(yMajor, {y: d => d, insetLeft: W - 18, ...tk}));
  marks.push(Plot.tickY(yMinor, {y: d => d, insetLeft: W - 9, ...tk}));
  if (c === 0) {
    marks.push(Plot.text(yMajor, {y: d => d, text: fmt, frameAnchor: "left", textAnchor: "end", dx: -17, ...lab}));
  }
  const svg = Plot.plot({
    width: W, height: H, margin: 0,
    x: {domain: xd, axis: null},
    y: {domain: yd, axis: null},
    style: {overflow: "visible", background: "transparent"},
    marks
  });
  const div = document.createElement("div");
  div.className = "panel";
  div.style.left = colLeft[c] + "px";
  div.style.top = rowTop[r] + "px";
  div.style.width = W + "px";
  div.style.height = H + "px";
  div.appendChild(svg);
  wrap.appendChild(div);
}
panels.forEach(makePanel);

// ---------------- titles & labels ----------------
function addHTML(cls, html, left, top) {
  const d = document.createElement("div");
  d.className = cls;
  d.innerHTML = html;
  d.style.left = left + "px";
  d.style.top = top + "px";
  wrap.appendChild(d);
}
const colCenter = [296, 634, 971];
colCenter.forEach(cx => {
  addHTML("ttl", "log<sub>10</sub>(   t/\u03c4<sub>s</sub>   )", cx - 200, 1.5);
  addHTML("ttl", "log<sub>10</sub>(  w  t)", cx - 200, 840);
});
addHTML("ytl", "log<sub>10</sub>(  &lt;\u0394E<sup>2</sup>&gt;\u2212&lt;\u0394E&gt;<sup>2</sup>  )", 24.5 - 200, 256.5 - 12.5);
addHTML("ytl", "log<sub>10</sub>(  &lt;\u0394L<sup>2</sup>&gt;\u2212&lt;\u0394L&gt;<sup>2</sup>  )", 24.5 - 200, 612 - 12.5);
const labLeft = [141, 482, 819];
labLeft.forEach((lx, i) => {
  addHTML("lab", "a/D=" + ratioLabels[i], lx, 97.6);
  addHTML("lab", "(w T<sub>ch</sub>=" + omegaTLabels[i] + ")", lx, 120.6);
});

// legend
const ns = "http://www.w3.org/2000/svg";
const leg = document.createElementNS(ns, "svg");
leg.setAttribute("width", 1139); leg.setAttribute("height", 875);
leg.style.position = "absolute"; leg.style.left = "0"; leg.style.top = "0";
leg.innerHTML = `
<line x1="137" x2="181" y1="686.5" y2="686.5" stroke="#ff0000" stroke-width="2.2"/>
<line x1="137" x2="181" y1="721.5" y2="721.5" stroke="black" stroke-width="2.5" stroke-dasharray="2.5,6"/>
<line x1="137" x2="182" y1="758" y2="758" stroke="black" stroke-width="2.5" stroke-dasharray="15,15"/>
<g font-family="DejaVu Serif" font-size="19" fill="black">
<text x="188" y="688.5">Monte Carlo: rand. walk</text>
<text x="188" y="723.5">impulsive approx.</text>
<text x="188" y="758.5">adiab. corrected</text>
</g>`;
wrap.appendChild(leg);
</script>
</body></html>
